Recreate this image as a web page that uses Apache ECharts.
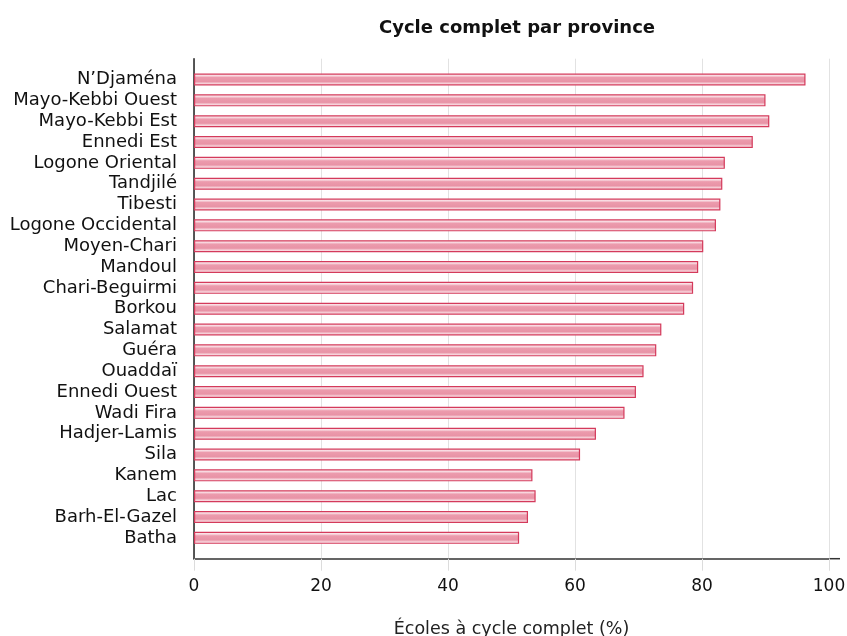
<!DOCTYPE html>
<html>
<head>
<meta charset="utf-8">
<script src="https://cdn.jsdelivr.net/npm/echarts@6/dist/echarts.min.js"></script>
<style>
  html, body { margin: 0; padding: 0; background: #fff; }
  #chart { width: 847px; height: 636px; }
</style>
</head>
<body>
<div id="chart"></div>
<script>
// provinces, top to bottom
var provinces = ['N\u2019Djaména', 'Mayo-Kebbi Ouest', 'Mayo-Kebbi Est', 'Ennedi Est', 'Logone Oriental',
	'Tandjilé', 'Tibesti', 'Logone Occidental', 'Moyen-Chari', 'Mandoul', 'Chari-Beguirmi', 'Borkou',
	'Salamat', 'Guéra', 'Ouaddaï', 'Ennedi Ouest', 'Wadi Fira', 'Hadjer-Lamis', 'Sila', 'Kanem', 'Lac',
	'Barh-El-Gazel', 'Batha'];
// % d'écoles à cycle complet
var pctComplet = [96.3, 90.0, 90.6, 88.0, 83.6, 83.2, 82.9, 82.2, 80.2, 79.4, 78.6, 77.2,
	73.6, 72.8, 70.8, 69.6, 67.8, 63.3, 60.8, 53.3, 53.8, 52.6, 51.2];
var xTicks = [0, 20, 40, 60, 80, 100];

// an empty slot at each end so the axes run past the first and last bars
var cats = [''].concat(provinces).concat(['']);
var vals = [null].concat(pctComplet).concat([null]);

var chart = echarts.init(document.getElementById('chart'));
var font = '"DejaVu Sans", Verdana, sans-serif';

chart.setOption({
	animation: false,
	title: {
		text: 'Cycle complet par province',
		left: 512,
		top: 14,
		textAlign: 'center',
		textStyle: { fontFamily: font, fontSize: 18, fontWeight: 'bold', color: '#111' }
	},
	grid: { left: 194, right: 18, top: 58.7, bottom: 77.3, outerBoundsMode: 'none', containLabel: false },
	xAxis: {
		type: 'value',
		min: xTicks[0],
		max: xTicks[xTicks.length - 1],
		interval: 20,
		name: 'Écoles à cycle complet (%)',
		nameLocation: 'middle',
		nameGap: 62,
		nameTextStyle: { fontFamily: font, fontSize: 17.5, color: '#222' },
		axisLine: { show: true, lineStyle: { color: '#333', width: 1.5 } },
		axisTick: { show: true, length: 12, lineStyle: { color: '#dcdcdc' } },
		axisLabel: { fontFamily: font, fontSize: 17, color: '#111', margin: 19 },
		splitLine: { show: true, lineStyle: { color: '#e2e2e2', width: 1 } }
	},
	yAxis: {
		type: 'category',
		data: cats,
		inverse: true,
		boundaryGap: false,
		axisLine: { show: true, lineStyle: { color: '#222', width: 1.5 } },
		axisTick: { show: false },
		axisLabel: { fontFamily: font, fontSize: 18, color: '#111', margin: 17, interval: 0 },
		splitLine: { show: false }
	},
	series: [{
		type: 'bar',
		data: vals,
		barWidth: 12,
		itemStyle: {
			// pink stroke down the middle, white margins, crimson edges
			color: new echarts.graphic.LinearGradient(0, 0, 0, 1, [
				{ offset: 0, color: '#ffffff' },
				{ offset: 0.2, color: '#f7d4dc' },
				{ offset: 0.33, color: '#ec9bad' },
				{ offset: 0.67, color: '#e893a6' },
				{ offset: 0.8, color: '#f4c6d0' },
				{ offset: 1, color: '#ffffff' }
			]),
			borderColor: '#d43a5b',
			borderWidth: 1.2
		}
	}],
	graphic: [{
		// axis line carries on a little past 100
		type: 'line',
		shape: { x1: 829, y1: 558.7, x2: 840, y2: 558.7 },
		style: { stroke: '#333', lineWidth: 1.5 }
	}]
});
</script>
</body>
</html>
